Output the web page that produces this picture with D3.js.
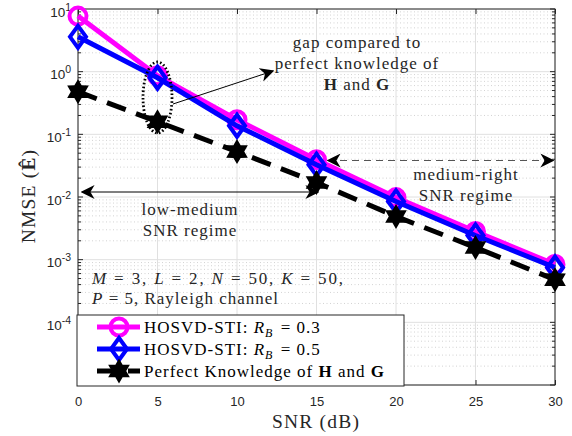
<!DOCTYPE html>
<html><head><meta charset="utf-8">
<script src="https://cdn.jsdelivr.net/npm/d3@7"></script>
<style>
body{margin:0;background:#fff}
svg text{font-family:"Liberation Serif","Times New Roman",serif}
.tick text,.tl{font-family:"Liberation Sans",Arial,sans-serif}
</style></head>
<body><svg id="c" width="572" height="436"></svg>
<script>
const snr = [0, 5, 10, 15, 20, 25, 30];
const rb03 = [7.7, 0.86, 0.171, 0.0394, 0.0098, 0.00281, 0.00084];
const rb05 = [3.6, 0.80, 0.137, 0.0328, 0.0085, 0.00243, 0.00075];
const perfect = [0.48, 0.159, 0.053, 0.017, 0.0049, 0.00156, 0.00048];
const xTicks = [0, 5, 10, 15, 20, 25, 30];
const yTickExp = [-4, -3, -2, -1, 0, 1];

const svg = d3.select("#c");
const L = 78, R = 555, T = 9, B = 385;
const x = d3.scaleLinear().domain([0, 30]).range([L, R]);
const y = d3.scaleLog().domain([1e-5, 10]).range([B, T]);

// grid
const g = svg.append("g");
const minors = [];
for (let e = -5; e < 1; e++) for (let k = 2; k <= 9; k++) minors.push(k * Math.pow(10, e));
g.selectAll(".mn").data(minors).join("line")
  .attr("x1", L).attr("x2", R).attr("y1", d => y(d)).attr("y2", d => y(d))
  .attr("stroke", "#c8c8c8").attr("stroke-width", 0.8).attr("stroke-dasharray", "1,2.5");
g.selectAll(".mjy").data(yTickExp.map(e => Math.pow(10, e)).concat([1e-5])).join("line")
  .attr("x1", L).attr("x2", R).attr("y1", d => y(d)).attr("y2", d => y(d))
  .attr("stroke", "#e0e0e0").attr("stroke-width", 1);
g.selectAll(".mjx").data(xTicks).join("line")
  .attr("x1", d => x(d)).attr("x2", d => x(d)).attr("y1", T).attr("y2", B)
  .attr("stroke", "#e0e0e0").attr("stroke-width", 1);

// axes
const ax = svg.append("g");
const xAxisB = d3.axisBottom(x).tickValues(xTicks).tickSize(-5).tickPadding(12).tickFormat(d3.format("d"));
ax.append("g").attr("transform", `translate(0,${B})`).call(xAxisB)
  .call(s => { s.select(".domain").remove(); s.selectAll("line").attr("stroke", "#262626");
    s.selectAll("text").attr("font-size", 13).attr("fill", "#262626"); });
ax.append("g").attr("transform", `translate(0,${T})`).call(d3.axisTop(x).tickValues(xTicks).tickSize(-5).tickFormat(""))
  .call(s => { s.select(".domain").remove(); s.selectAll("line").attr("stroke", "#262626"); });
// y ticks
const yMaj = yTickExp.map(e => Math.pow(10, e));
[[L, 1], [R, -1]].forEach(([xx, dir]) => {
  ax.selectAll(null).data(yMaj.concat([1e-5])).join("line")
    .attr("x1", xx).attr("x2", xx + dir * 5).attr("y1", d => y(d)).attr("y2", d => y(d))
    .attr("stroke", "#262626");
  ax.selectAll(null).data(minors).join("line")
    .attr("x1", xx).attr("x2", xx + dir * 3).attr("y1", d => y(d)).attr("y2", d => y(d))
    .attr("stroke", "#262626");
});
const yl = ax.selectAll(".ytl").data(yTickExp).join("text").attr("class", "tl")
  .attr("x", 71).attr("y", d => y(Math.pow(10, d)) + 7.5).attr("text-anchor", "end")
  .attr("font-size", 13.5).attr("fill", "#262626");
yl.append("tspan").text("10");
yl.append("tspan").attr("dy", -6).attr("font-size", 10.5).text(d => String(d));
ax.append("rect").attr("x", L).attr("y", T).attr("width", R - L).attr("height", B - T)
  .attr("fill", "none").attr("stroke", "#262626").attr("stroke-width", 1);

// axis labels
svg.append("text").attr("x", 316).attr("y", 428).attr("text-anchor", "middle")
  .attr("font-size", 19.5).attr("letter-spacing", 1.2).attr("fill", "#262626").text("SNR (dB)");
const ylab = svg.append("text").attr("transform", "translate(35,196) rotate(-90)")
  .attr("text-anchor", "middle").attr("font-size", 19.5).attr("letter-spacing", 1.2).attr("fill", "#262626");
ylab.append("tspan").text("NMSE (");
ylab.append("tspan").attr("font-weight", "bold").text("Ê");
ylab.append("tspan").text(")");

// series
const defs = svg.append("defs");
const mk = (id, w) => defs.append("marker").attr("id", id).attr("viewBox", "0 0 10 10").attr("refX", 9).attr("refY", 5)
  .attr("markerWidth", w).attr("markerHeight", w).attr("markerUnits", "userSpaceOnUse").attr("orient", "auto-start-reverse")
  .append("path").attr("d", "M0,0 L10,5 L0,10 L3,5 Z").attr("fill", "#000");
mk("ah", 14);

const line = d3.line().x(d => x(d[0])).y(d => y(d[1]));
const series = [
  {v: rb03, color: "#ff00ff", dash: null, m: "circle"},
  {v: rb05, color: "#0000ff", dash: null, m: "diamond"},
  {v: perfect, color: "#000000", dash: "20,11", m: "star"}
];
function star(r) {
  const pts = [];
  for (let i = 0; i < 12; i++) {
    const a = Math.PI / 6 * i - Math.PI / 2;
    const rr = i % 2 === 0 ? r : r * 0.58;
    pts.push([rr * Math.cos(a), rr * Math.sin(a)]);
  }
  return "M" + pts.map(p => p.join(",")).join("L") + "Z";
}
function drawMarker(sel, m, color) {
  if (m === "circle") sel.append("circle").attr("r", 8.5).attr("fill", "none").attr("stroke", color).attr("stroke-width", 4);
  else if (m === "diamond") sel.append("path").attr("d", "M0,-11L8,0L0,11L-8,0Z").attr("fill", "none").attr("stroke", color).attr("stroke-width", 4);
  else sel.append("path").attr("d", star(12.5)).attr("fill", color);
}
series.forEach(s => {
  const data = snr.map((d, i) => [d, s.v[i]]);
  svg.append("path").datum(data).attr("d", line).attr("fill", "none").attr("stroke", s.color)
    .attr("stroke-width", 5).attr("stroke-dasharray", s.dash);
  svg.selectAll(null).data(data).join("g").attr("transform", d => `translate(${x(d[0])},${y(d[1])})`)
    .each(function () { drawMarker(d3.select(this), s.m, s.color); });
});

// annotations
svg.append("ellipse").attr("cx", x(5)).attr("cy", 97.5).attr("rx", 14.5).attr("ry", 35.5)
  .attr("fill", "none").attr("stroke", "#000").attr("stroke-width", 2.8).attr("stroke-dasharray", "1.6,2.2");
svg.append("line").attr("x1", 173).attr("y1", 104).attr("x2", 273).attr("y2", 71)
  .attr("stroke", "#000").attr("stroke-width", 1).attr("marker-end", "url(#ah)");
const ann = {fs: 17, ls: 1};
const gap = svg.append("g").attr("font-size", ann.fs).attr("letter-spacing", ann.ls).attr("fill", "#262626").attr("text-anchor", "middle");
gap.append("text").attr("x", 357).attr("y", 48).text("gap compared to");
gap.append("text").attr("x", 357).attr("y", 69).text("perfect knowledge of");
const hg = gap.append("text").attr("x", 357).attr("y", 90);
hg.append("tspan").attr("font-weight", "bold").text("H");
hg.append("tspan").text(" and ");
hg.append("tspan").attr("font-weight", "bold").text("G");

svg.append("line").attr("x1", 82).attr("y1", 192).attr("x2", 318).attr("y2", 192)
  .attr("stroke", "#000").attr("stroke-width", 1).attr("marker-start", "url(#ah)").attr("marker-end", "url(#ah)");
svg.append("line").attr("x1", 328).attr("y1", 160.5).attr("x2", 553).attr("y2", 160.5)
  .attr("stroke", "#555").attr("stroke-width", 1.2).attr("stroke-dasharray", "7,5")
  .attr("marker-start", "url(#ah)").attr("marker-end", "url(#ah)");
const t2 = svg.append("g").attr("font-size", ann.fs).attr("letter-spacing", ann.ls).attr("fill", "#262626").attr("text-anchor", "middle");
t2.append("text").attr("x", 190).attr("y", 215).text("low-medium");
t2.append("text").attr("x", 190).attr("y", 236).text("SNR regime");
t2.append("text").attr("x", 466).attr("y", 180).text("medium-right");
t2.append("text").attr("x", 466).attr("y", 201).text("SNR regime");

const p1 = svg.append("text").attr("x", 92).attr("y", 284).attr("font-size", 17).attr("fill", "#262626")
  .attr("textLength", 251).attr("lengthAdjust", "spacing");
[["M", 1], [" = 3, ", 0], ["L", 1], [" = 2, ", 0], ["N", 1], [" = 50, ", 0], ["K", 1], [" = 50,", 0]]
  .forEach(([t, it]) => p1.append("tspan").attr("font-style", it ? "italic" : null).text(t));
const p2 = svg.append("text").attr("x", 92).attr("y", 304).attr("font-size", 17).attr("fill", "#262626")
  .attr("textLength", 186).attr("lengthAdjust", "spacing");
[["P", 1], [" = 5, Rayleigh channel", 0]].forEach(([t, it]) => p2.append("tspan").attr("font-style", it ? "italic" : null).text(t));

// legend
const lg = svg.append("g");
lg.append("rect").attr("x", 77).attr("y", 315).attr("width", 327).attr("height", 71)
  .attr("fill", "#fff").attr("stroke", "#262626").attr("stroke-width", 1);
const legRows = [
  {s: series[0], y: 327, lab: "0.3"},
  {s: series[1], y: 349, lab: "0.5"},
  {s: series[2], y: 371, lab: null}
];
legRows.forEach(r => {
  lg.append("line").attr("x1", 97).attr("x2", 140).attr("y1", r.y).attr("y2", r.y)
    .attr("stroke", r.s.color).attr("stroke-width", 5).attr("stroke-dasharray", r.s.dash ? "20,11" : null);
  drawMarker(lg.append("g").attr("transform", `translate(119,${r.y})`), r.s.m, r.s.color);
  const t = lg.append("text").attr("x", 144).attr("y", r.y + 6).attr("font-size", 17)
    .attr("letter-spacing", 1).attr("fill", "#000");
  if (r.lab) {
    t.append("tspan").text("HOSVD-STI: ");
    t.append("tspan").attr("font-style", "italic").text("R");
    t.append("tspan").attr("font-style", "italic").attr("font-size", 12).attr("dy", 4).text("B");
    t.append("tspan").attr("dy", -4).attr("dx", 2).text(" = " + r.lab);
  } else {
    t.append("tspan").text("Perfect Knowledge of ");
    t.append("tspan").attr("font-weight", "bold").text("H");
    t.append("tspan").text(" and ");
    t.append("tspan").attr("font-weight", "bold").text("G");
  }
});
</script></body></html>
